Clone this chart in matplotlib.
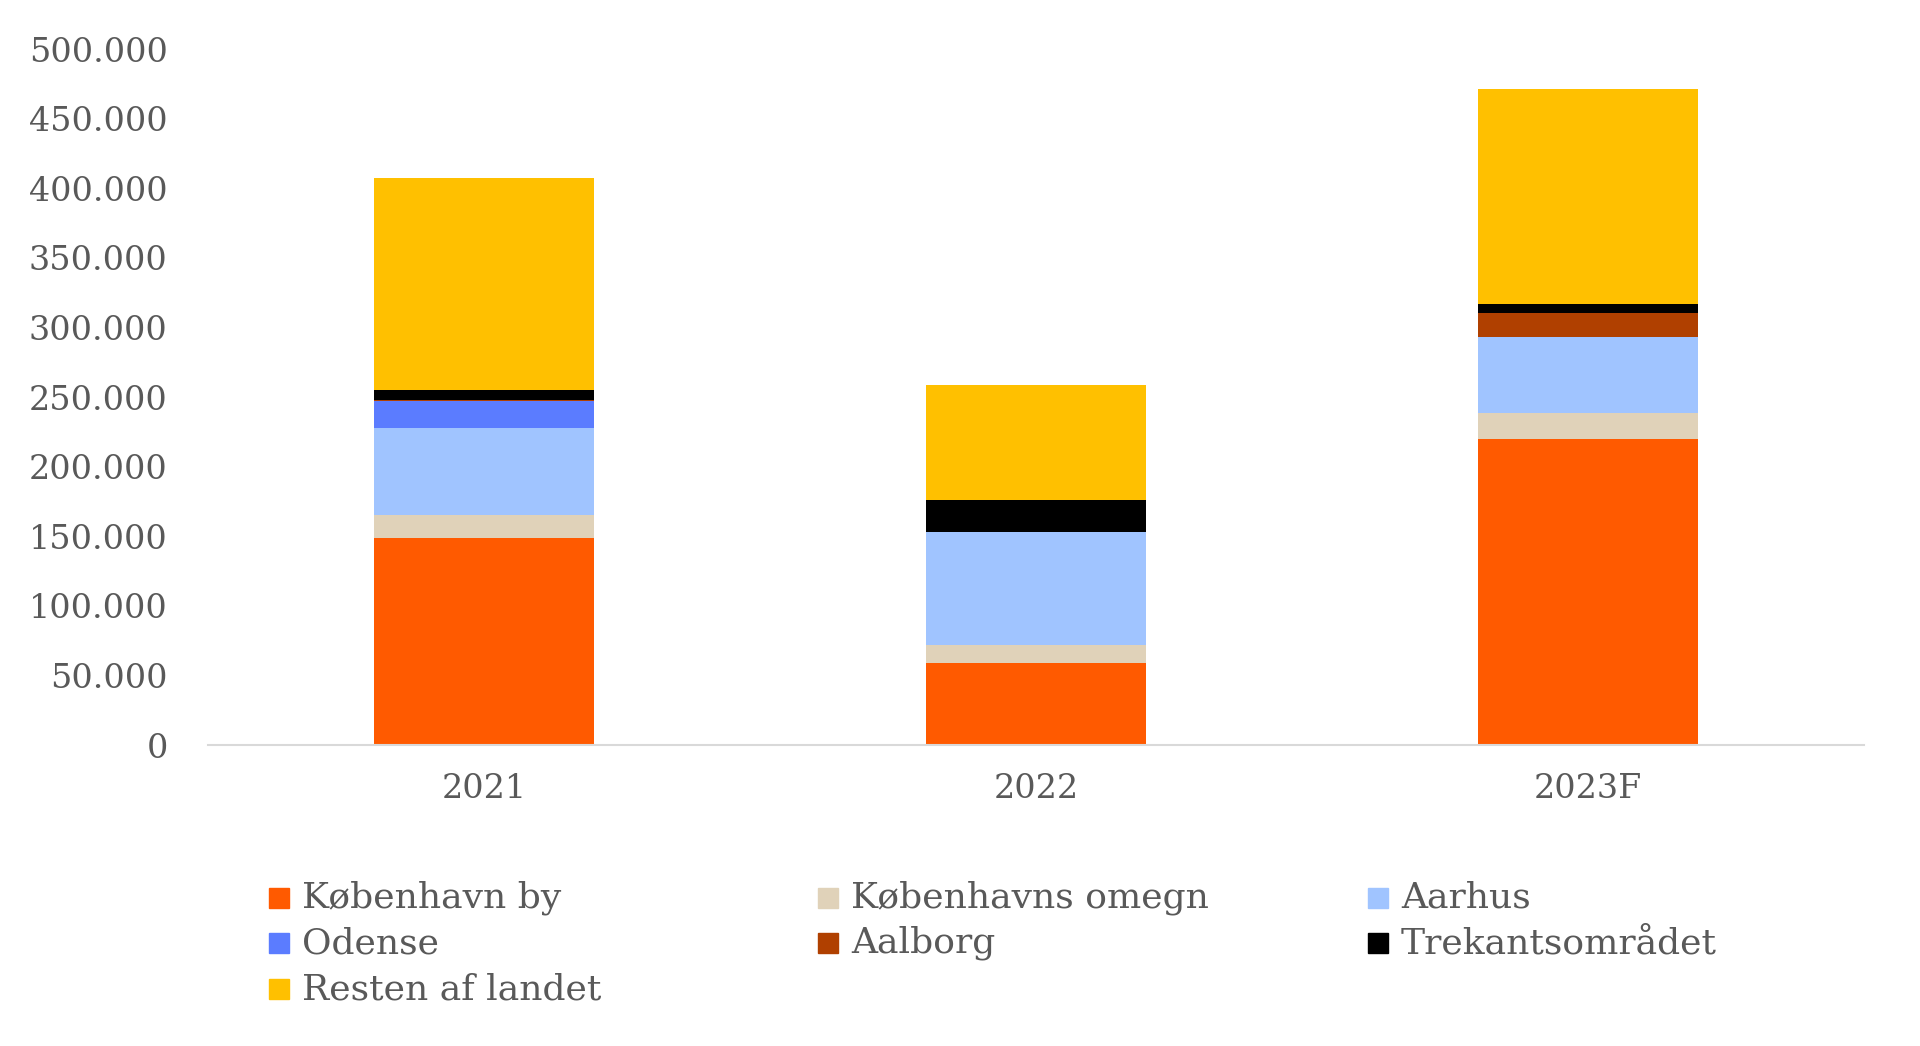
import matplotlib
matplotlib.use("Agg")
import matplotlib.pyplot as plt
from matplotlib.patches import Rectangle
import numpy as np

categories = ["2021", "2022", "2023F"]
series_names = ["København by", "Københavns omegn", "Aarhus", "Odense",
                "Aalborg", "Trekantsområdet", "Resten af landet"]
kbh_by = [149000, 59000, 220000]
kbh_omegn = [16500, 13000, 18600]
aarhus = [62000, 81000, 54500]
odense = [19500, 0, 0]
aalborg = [1000, 0, 17000]
trekant = [7000, 23000, 7000]
resten = [152000, 82500, 154000]
yticks = [0, 50000, 100000, 150000, 200000, 250000, 300000, 350000, 400000, 450000, 500000]

series = [kbh_by, kbh_omegn, aarhus, odense, aalborg, trekant, resten]
colors = ["#FF5A00", "#E0D2B9", "#A0C4FF", "#5B7CFF", "#B04000", "#000000", "#FFC000"]

W, H = 1920, 1046
fig = plt.figure(figsize=(W / 100, H / 100), dpi=100)
ax = fig.add_axes([208 / W, 1 - 745 / H, (1864 - 208) / W, (745 - 49) / H])

x = np.arange(len(categories))
bottom = np.zeros(len(categories))
for vals, col, name in zip(series, colors, series_names):
    ax.bar(x, vals, width=0.4, bottom=bottom, color=col, label=name, linewidth=0)
    bottom += np.array(vals)

ax.set_xlim(-0.5, 2.5)
ax.set_ylim(0, 500000)
ax.set_yticks(yticks)
ax.set_yticklabels([f"{v:,}".replace(",", ".") for v in yticks])
ax.set_xticks(x)
ax.set_xticklabels(categories)
for s in ["top", "right", "left"]:
    ax.spines[s].set_visible(False)
ax.spines["bottom"].set_color("#D9D9D9")
ax.spines["bottom"].set_linewidth(1.5)
ax.tick_params(axis="y", length=0, pad=29, labelsize=24, labelcolor="#595959")
ax.tick_params(axis="x", length=0, pad=20, labelsize=24, labelcolor="#595959")
for lab in ax.get_xticklabels() + ax.get_yticklabels():
    lab.set_family("DejaVu Serif")

# legend laid out as in the reference (3 columns, row-major)
col_x = [269, 818, 1368]
row_y = [898, 943, 989]
for i, (name, col) in enumerate(zip(series_names, colors)):
    r, c = divmod(i, 3)
    mx, my = col_x[c], row_y[r]
    fig.patches.append(Rectangle((mx / W, 1 - (my + 10) / H), 20 / W, 20 / H,
                                 transform=fig.transFigure, color=col, figure=fig))
    fig.text((mx + 33) / W, 1 - my / H, name, fontsize=26, color="#595959",
             family="DejaVu Serif", va="center", ha="left")

fig.savefig("out.png", dpi=100, facecolor="white")
